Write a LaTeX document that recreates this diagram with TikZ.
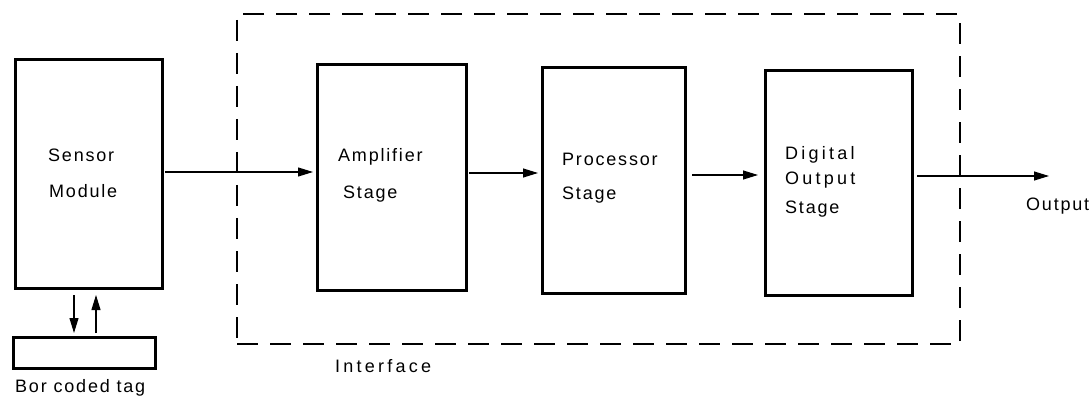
\documentclass[tikz,border=0pt]{standalone}
\usepackage{fontspec}
\setmainfont{Liberation Sans}
\usetikzlibrary{arrows.meta,calc}
\tikzset{
  blk/.style={draw, line width=3pt, rectangle, inner sep=0pt, outer sep=0pt},
  arr/.style={line width=1.1pt, -{Triangle[length=15pt,width=9pt]}},
  lbl/.style={anchor=base west, inner sep=0pt, font=\fontsize{18}{20}\selectfont\addfontfeature{LetterSpace=10}},
  wide/.style={font=\fontsize{18}{20}\selectfont\addfontfeature{LetterSpace=18}},
  iface/.style={draw, line width=1.5pt, dash pattern=on 21pt off 12pt, rectangle, inner sep=0pt}
}
\begin{document}
\begin{tikzpicture}[x=1pt,y=-1pt]
\useasboundingbox (0,0) rectangle (1090,401);
% interface frame
\node[iface, minimum width=723pt, minimum height=330pt] (frame) at (598.5,179) {};
% blocks
\node[blk, minimum width=147pt, minimum height=228pt] (sensor) at (88.5,174) {};
\node[blk, minimum width=142pt, minimum height=31pt] (tag) at (84,352.5) {};
\node[blk, minimum width=149pt, minimum height=225pt] (amp) at (391.5,177.5) {};
\node[blk, minimum width=143pt, minimum height=225pt] (proc) at (613.5,180.5) {};
\node[blk, minimum width=147pt, minimum height=224pt] (dig) at (838.5,183) {};
% texts
\node[lbl] (t1) at (48,162) {Sensor};
\node[lbl] (t2) at (49,197) {Module};
\node[lbl] (t3) at (15,392) {Bor coded tag};
\node[lbl] (t4) at (338,162) {Amplifier};
\node[lbl] (t5) at (343,198) {Stage};
\node[lbl] (t6) at (562,165) {Processor};
\node[lbl] (t7) at (562,200) {Stage};
\node[lbl, wide] (t8) at (785,160) {Digital};
\node[lbl, wide] (t9) at (785,185) {Output};
\node[lbl] (t10) at (785,213) {Stage};
\node[lbl] (t11) at (1026,210) {Output};
\node[lbl, wide] (t12) at (335,372) {Interface};
% connectors
\coordinate (out) at (1049,176);
\draw[arr, shorten <=3pt, shorten >=4pt] ([yshift=2pt]sensor.east) -- ([yshift=2pt]sensor.east -| amp.west);
\draw[arr, shorten <=3pt, shorten >=4pt] ([yshift=4.5pt]amp.east) -- ([yshift=4.5pt]amp.east -| proc.west);
\draw[arr, shorten <=7pt, shorten >=7pt] ([yshift=5.5pt]proc.east) -- ([yshift=5.5pt]proc.east -| dig.west);
\draw[arr, shorten <=5pt] ([yshift=7pt]dig.east) -- (out);
\draw[arr, shorten <=7pt, shorten >=4pt] ([xshift=-14.5pt]sensor.south) -- ([xshift=-14.5pt]sensor.south |- tag.north);
\draw[arr, shorten <=4pt, shorten >=7pt] ([xshift=7.5pt]sensor.south |- tag.north) -- ([xshift=7.5pt]sensor.south);
\end{tikzpicture}
\end{document}
